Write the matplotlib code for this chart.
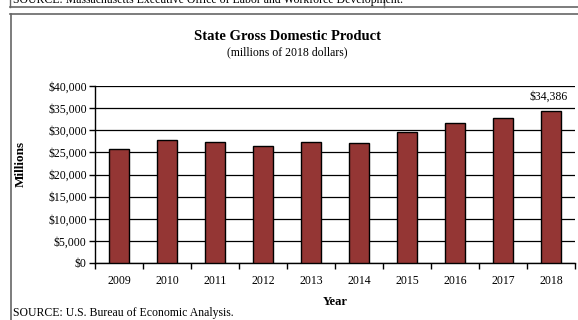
import matplotlib
matplotlib.use("Agg")
import matplotlib.pyplot as plt
from matplotlib.lines import Line2D
from matplotlib.ticker import FuncFormatter, MultipleLocator

years = ["2009", "2010", "2011", "2012", "2013", "2014", "2015", "2016", "2017", "2018"]
gdp = [25800, 27800, 27400, 26400, 27400, 27100, 29700, 31600, 32800, 34386]

W, H = 578, 320
plt.rcParams["font.family"] = ["Liberation Serif", "DejaVu Serif"]
fig = plt.figure(figsize=(W / 100, H / 100), dpi=100)

def fx(x):
    return x / W

def fy(y):
    return 1 - y / H

ax = fig.add_axes([fx(95), fy(263), fx(575) - fx(95), fy(86) - fy(263)])
x = list(range(len(years)))
ax.bar(x, gdp, width=0.4, color="#943634", edgecolor="black", linewidth=1.0, zorder=3)
ax.set_xlim(-0.5, len(years) - 0.5)
ax.set_ylim(0, 40000)
ax.yaxis.set_major_locator(MultipleLocator(5000))
ax.yaxis.set_major_formatter(FuncFormatter(lambda v, p: "${:,.0f}".format(v)))
ax.set_xticks(x)
ax.set_xticklabels(years)
ax.set_xticks([i - 0.5 for i in range(len(years) + 1)], minor=True)
ax.tick_params(axis="x", which="major", length=0, labelsize=8.5, pad=9)
ax.tick_params(axis="x", which="minor", length=4, width=1, direction="out")
ax.tick_params(axis="y", length=4, width=1, labelsize=8.5, pad=2)
ax.grid(axis="y", color="black", linewidth=0.9, zorder=0)
for s in ["top", "right"]:
    ax.spines[s].set_visible(False)
ax.spines["left"].set_linewidth(1.0)
ax.spines["bottom"].set_linewidth(1.0)
ax.annotate("${:,.0f}".format(gdp[-1]), xy=(x[-1], gdp[-1]), xytext=(-2, 6),
            textcoords="offset points", ha="center", va="bottom", fontsize=8.5)

ax.set_xlabel("Year", fontsize=9, fontweight="bold", labelpad=6)
ax.set_ylabel("Millions", fontsize=9.5, fontweight="bold")
aw = fx(575) - fx(95)
ah = fy(86) - fy(263)
ax.yaxis.set_label_coords((fx(27) - fx(95)) / aw, (fy(164) - fy(263)) / ah)

fig.text(fx(287), fy(36), "State Gross Domestic Product", ha="center", va="center",
         fontsize=10.5, fontweight="bold")
fig.text(fx(287), fy(52), "(millions of 2018 dollars)", ha="center", va="center", fontsize=8.5)

fig.text(fx(13), fy(3.5), "SOURCE: Massachusetts Executive Office of Labor and Workforce Development.",
         ha="left", va="baseline", fontsize=8.5)
fig.text(fx(13), fy(316), "SOURCE: U.S. Bureau of Economic Analysis.",
         ha="left", va="baseline", fontsize=8.5)

lc = "#666666"
fig.add_artist(Line2D([fx(10), fx(578)], [fy(7), fy(7)], color=lc, linewidth=1.2, transform=fig.transFigure))
fig.add_artist(Line2D([fx(10), fx(10)], [fy(0), fy(7)], color=lc, linewidth=1.0, transform=fig.transFigure))
fig.add_artist(Line2D([fx(384), fx(384)], [fy(0), fy(7)], color=lc, linewidth=1.0, transform=fig.transFigure))
fig.add_artist(Line2D([fx(10), fx(578)], [fy(13.5), fy(13.5)], color=lc, linewidth=1.2, transform=fig.transFigure))
fig.add_artist(Line2D([fx(11), fx(11)], [fy(13.5), fy(320)], color=lc, linewidth=1.2, transform=fig.transFigure))

fig.savefig("out.png", dpi=100)
